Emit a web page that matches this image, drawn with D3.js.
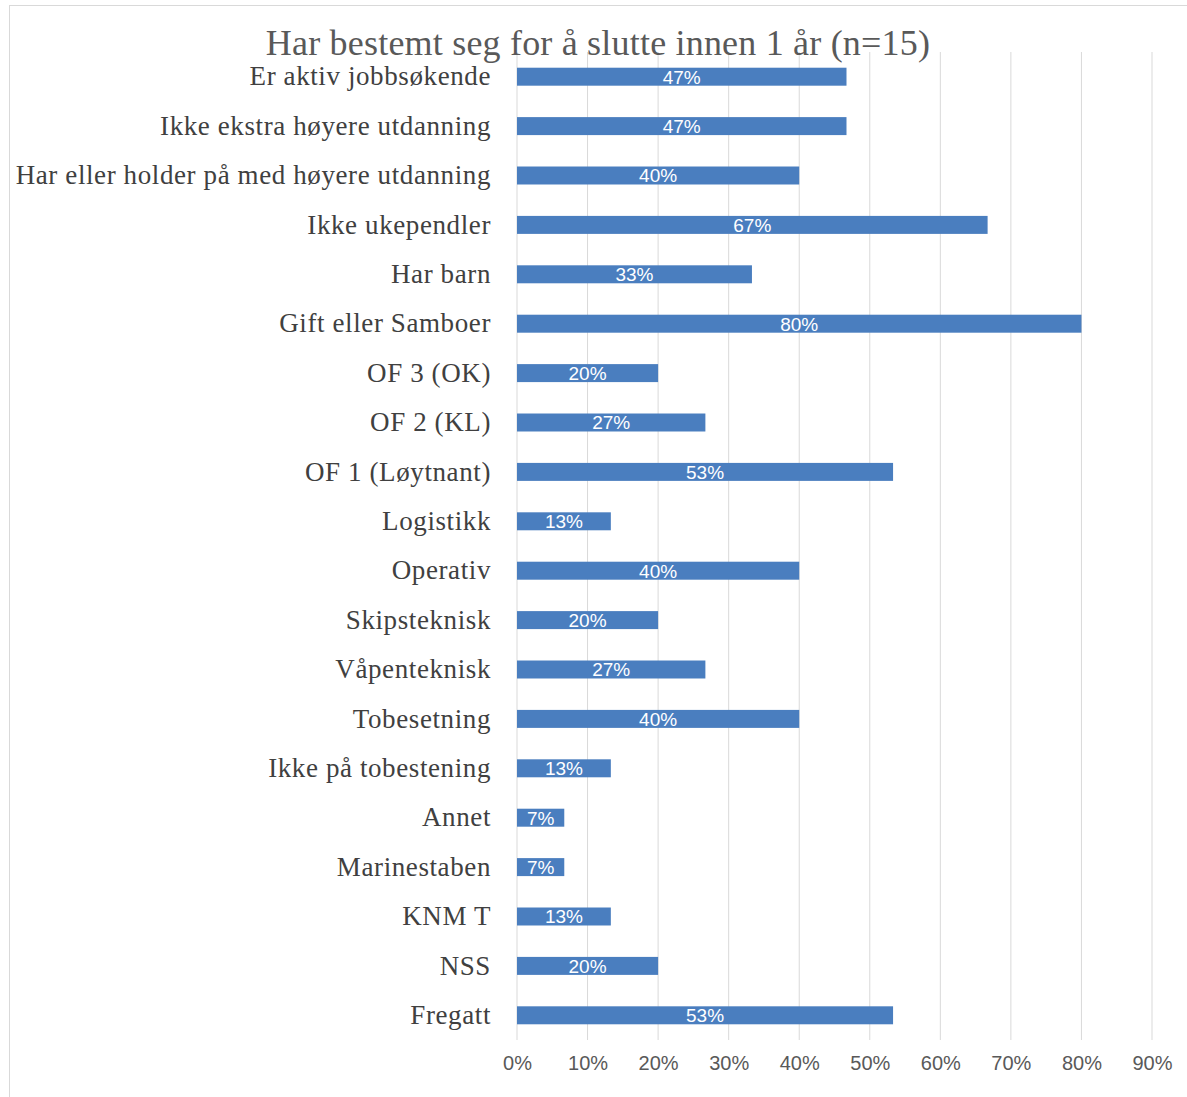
<!DOCTYPE html>
<html><head><meta charset="utf-8">
<script src="https://cdn.jsdelivr.net/npm/d3@7"></script>
<style>
html,body{margin:0;padding:0;background:#fff;}
svg{display:block;}
</style></head>
<body>
<svg id="chart" width="1187" height="1097"></svg>
<script>
const titleText = "Har bestemt seg for å slutte innen 1 år (n=15)";
const categories = [
  "Er aktiv jobbsøkende",
  "Ikke ekstra høyere utdanning",
  "Har eller holder på med høyere utdanning",
  "Ikke ukependler",
  "Har barn",
  "Gift eller Samboer",
  "OF 3 (OK)",
  "OF 2 (KL)",
  "OF 1 (Løytnant)",
  "Logistikk",
  "Operativ",
  "Skipsteknisk",
  "Våpenteknisk",
  "Tobesetning",
  "Ikke på tobestening",
  "Annet",
  "Marinestaben",
  "KNM T",
  "NSS",
  "Fregatt"
];
const values = [0.467,0.467,0.40,0.667,0.333,0.80,0.20,0.267,0.533,0.133,0.40,0.20,0.267,0.40,0.133,0.067,0.067,0.133,0.20,0.533];
const ticks = [0,0.1,0.2,0.3,0.4,0.5,0.6,0.7,0.8,0.9];

const svg = d3.select("#chart");
const W = 1187, H = 1097;
const m = {left:517, right:35, top:52, bottom:57};
const serif = "'Liberation Serif','Times New Roman',serif";
const sans = "'Liberation Sans',Arial,sans-serif";

svg.append("rect").attr("x",9.5).attr("y",5.5).attr("width",W).attr("height",H)
  .attr("fill","#fff").attr("stroke","#d9d9d9").attr("stroke-width",1);

const x = d3.scaleLinear().domain([0,0.9]).range([m.left, W-m.right]);
const y = d3.scaleBand().domain(categories).range([m.top, H-m.bottom]).paddingInner(0.636).paddingOuter(0.318);

// gridlines
svg.append("g").selectAll("line").data(ticks).join("line")
  .attr("x1",d=>x(d)).attr("x2",d=>x(d))
  .attr("y1",m.top).attr("y2",H-m.bottom)
  .attr("stroke","#d9d9d9").attr("stroke-width",1);

// bars
svg.append("g").selectAll("rect").data(categories).join("rect")
  .attr("x",x(0)).attr("y",d=>y(d))
  .attr("width",(d,i)=>x(values[i])-x(0))
  .attr("height",y.bandwidth())
  .attr("fill","#4a7ebf");

// value labels
svg.append("g").selectAll("text").data(categories).join("text")
  .attr("x",(d,i)=>(x(0)+x(values[i]))/2)
  .attr("y",d=>y(d)+y.bandwidth()/2)
  .attr("dy","0.36em")
  .attr("text-anchor","middle")
  .attr("font-family",sans)
  .attr("font-size",19)
  .attr("fill","#fff")
  .text((d,i)=>Math.round(values[i]*100)+"%");

// y axis labels
const yAxis = d3.axisLeft(y).tickSize(0).tickPadding(26);
const gy = svg.append("g").attr("transform",`translate(${m.left},0)`).call(yAxis);
gy.select(".domain").remove();
gy.selectAll("text")
  .attr("font-family",serif)
  .attr("font-size",27)
  .attr("letter-spacing","0.6px")
  .attr("fill","#404040");

// x axis
const xAxis = d3.axisBottom(x).tickValues(ticks).tickFormat(d3.format(".0%")).tickSize(0).tickPadding(16);
const gx = svg.append("g").attr("transform",`translate(0,${H-m.bottom})`).call(xAxis);
gx.select(".domain").remove();
gx.selectAll("text")
  .attr("font-family",sans)
  .attr("font-size",20)
  .attr("fill","#595959");

// title
svg.append("text").attr("x",598).attr("y",55)
  .attr("text-anchor","middle")
  .attr("font-family",serif)
  .attr("font-size",36)
  .attr("letter-spacing","0.2px")
  .attr("fill","#595959")
  .text(titleText);
</script>
</body></html>
